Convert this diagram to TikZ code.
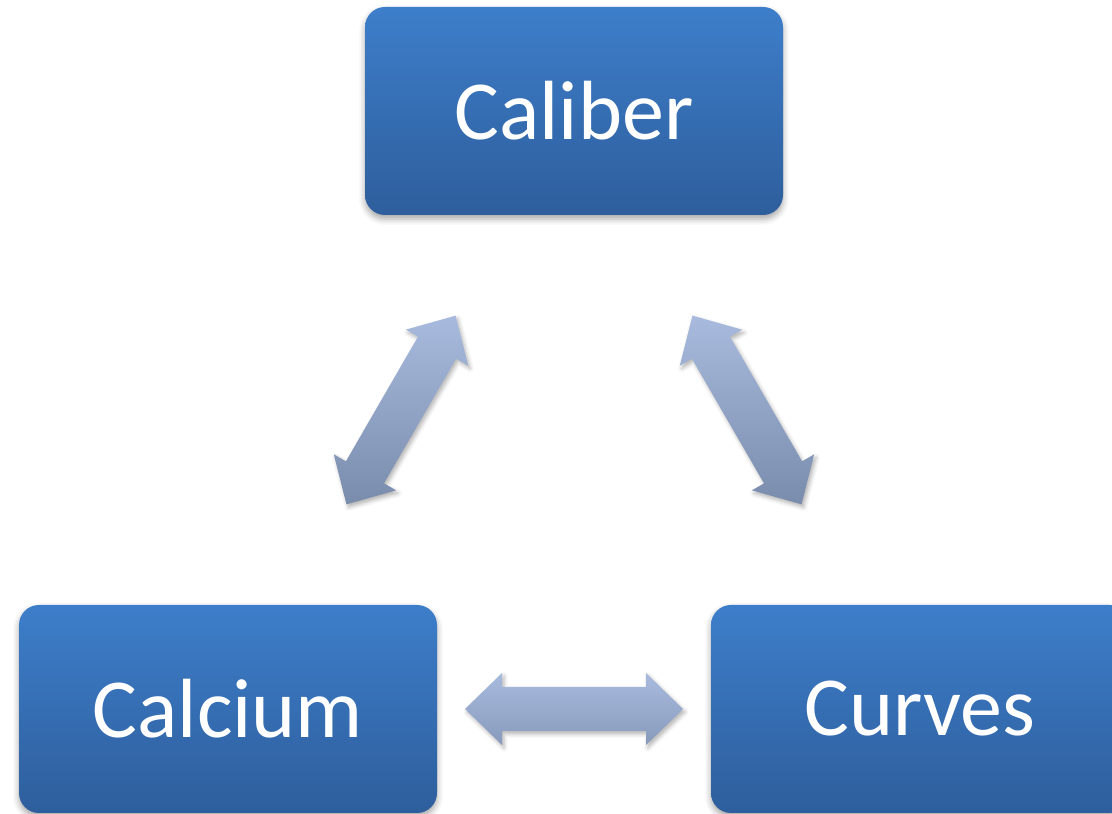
\documentclass[tikz,border=0pt]{standalone}
\usepackage{fontspec}
\setmainfont{Carlito}
\usetikzlibrary{calc,shadows.blur}

\definecolor{boxtop}{RGB}{61,126,202}
\definecolor{boxbot}{RGB}{46,94,156}
\definecolor{arrtop}{RGB}{168,187,222}
\definecolor{arrbot}{RGB}{122,140,172}
\definecolor{arrmid}{RGB}{136,154,188}

\tikzset{
  conceptbox/.style={rounded corners=20pt, minimum width=418pt, minimum height=208pt,
    inner sep=0pt, top color=boxtop, bottom color=boxbot, text=white,
    font=\fontsize{84pt}{100pt}\selectfont,
    blur shadow={shadow xshift=0pt, shadow yshift=-4pt, shadow blur radius=6pt, shadow opacity=35}},
  fatarrow/.style={top color=arrtop, bottom color=arrbot,
    blur shadow={shadow xshift=2pt, shadow yshift=-3pt, shadow blur radius=4pt, shadow opacity=30}},
  flatarrow/.style={top color=arrtop, bottom color=arrmid,
    blur shadow={shadow xshift=2pt, shadow yshift=-3pt, shadow blur radius=4pt, shadow opacity=30}}
}

% Fat double-headed arrow centred between two nodes, lying along the line joining them
\newcommand\linkarrow[3][fatarrow]{%
  \coordinate (m) at ($(#2)!0.5!(#3)$);
  \coordinate (bp) at ($(m)!72pt!(#3)$);
  \coordinate (ap) at ($(m)!-72pt!(#3)$);
  \path[#1]
    ($(m)!109pt!(#3)$) -- ($(bp)!36pt!90:(#3)$) -- ($(bp)!22pt!90:(#3)$)
    -- ($(ap)!22pt!90:(#3)$) -- ($(ap)!36pt!90:(#3)$) -- ($(m)!-109pt!(#3)$)
    -- ($(ap)!-36pt!90:(#3)$) -- ($(ap)!-22pt!90:(#3)$) -- ($(bp)!-22pt!90:(#3)$)
    -- ($(bp)!-36pt!90:(#3)$) -- cycle;
}

\begin{document}
\begin{tikzpicture}[x=1pt,y=1pt]
  \useasboundingbox (0,0) rectangle (1112,814);

  \node[conceptbox] (caliber) at (574,703) {Caliber};
  \node[conceptbox] (calcium) at (228,105) {Calcium};
  \node[conceptbox] (curves)  at (920,105) {Curves};

  \linkarrow{calcium}{caliber}
  \linkarrow{curves}{caliber}
  \linkarrow[flatarrow]{calcium}{curves}
\end{tikzpicture}
\end{document}
